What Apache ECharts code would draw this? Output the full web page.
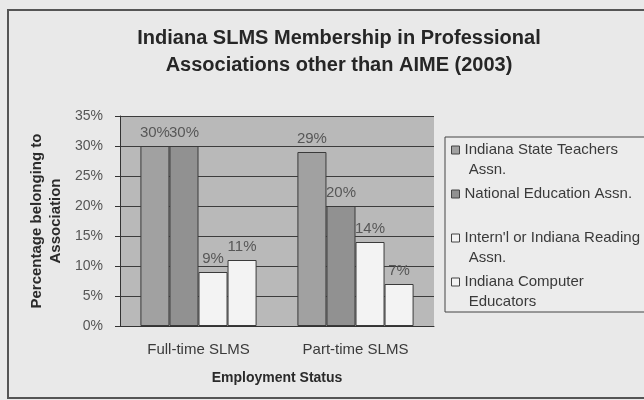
<!DOCTYPE html>
<html>
<head>
    <meta charset="utf-8" />
    <title>ECharts</title>
    <script src="https://cdn.jsdelivr.net/npm/echarts@6/dist/echarts.min.js"></script>
    <style>
        html, body { margin: 0; padding: 0; background: #e9e9e9; }
    </style>
</head>
<body>
    <div id="main" style="width: 644px;height:400px;"></div>

    <script type="text/javascript">
        // data
        var categories = ['Full-time SLMS', 'Part-time SLMS'];
        var seriesNames = ['Indiana State Teachers Assn.', 'National Education Assn.', "Intern'l or Indiana Reading Assn.", 'Indiana Computer Educators'];
        var stateTeachers = [30, 29];
        var nationalEdu = [30, 20];
        var reading = [9, 14];
        var computerEdu = [11, 7];
        var yTicks = [0, 5, 10, 15, 20, 25, 30, 35];

        // wrapped legend text, as in the original
        // (a blank first line keeps the marker level with the first text line)
        var legendText = {
            'Indiana State Teachers Assn.': ' \nIndiana State Teachers\n Assn.',
            'National Education Assn.': ' \nNational Education Assn.\n ',
            "Intern'l or Indiana Reading Assn.": " \nIntern'l or Indiana Reading\n Assn.",
            'Indiana Computer Educators': ' \nIndiana Computer\n Educators'
        };

        var barColors = ['#a1a1a1', '#919191', '#f3f3f3', '#f3f3f3'];
        var values = [stateTeachers, nationalEdu, reading, computerEdu];

        var myChart = echarts.init(document.getElementById('main'));

        var series = seriesNames.map(function (name, i) {
            return {
                name: name,
                type: 'bar',
                data: values[i],
                barGap: '0%',
                barCategoryGap: '26%',
                itemStyle: { color: barColors[i], borderColor: '#3a3a3a', borderWidth: 1 },
                label: {
                    show: true,
                    position: 'top',
                    distance: 6,
                    formatter: '{c}%',
                    color: '#575757',
                    fontSize: 15
                }
            };
        });

        var option = {
            backgroundColor: '#e9e9e9',
            textStyle: { fontFamily: 'Liberation Sans' },
            title: {
                text: 'Indiana SLMS Membership in Professional\nAssociations other than AIME (2003)',
                left: 334,
                textAlign: 'center',
                top: 20,
                textStyle: { fontSize: 20, fontWeight: 'bold', color: '#262626', lineHeight: 27 }
            },
            legend: {
                orient: 'vertical',
                left: 451,
                top: 120,
                padding: 0,
                itemGap: -16,
                itemWidth: 8,
                itemHeight: 8,
                icon: 'rect',
                data: seriesNames.map(function (n) {
                    return { name: n, itemStyle: { borderColor: '#444', borderWidth: 1 } };
                }),
                formatter: function (name) { return legendText[name]; },
                textStyle: { fontSize: 15, color: '#3a3a3a', lineHeight: 20 }
            },
            grid: { left: 120, right: 210, top: 116, bottom: 74, show: true, backgroundColor: '#b9b9b9', borderWidth: 0 },
            xAxis: {
                type: 'category',
                data: categories,
                name: 'Employment Status',
                nameLocation: 'middle',
                nameGap: 45,
                nameTextStyle: { fontSize: 14, fontWeight: 'bold', color: '#2a2a2a' },
                axisLine: { lineStyle: { color: '#333' } },
                axisTick: { length: 4, lineStyle: { color: '#333' } },
                axisLabel: { fontSize: 15, color: '#3a3a3a', margin: 16 }
            },
            yAxis: {
                type: 'value',
                min: yTicks[0],
                max: yTicks[yTicks.length - 1],
                interval: 5,
                name: 'Percentage belonging to\nAssociation',
                nameLocation: 'middle',
                nameGap: 55,
                nameTextStyle: { fontSize: 15, fontWeight: 'bold', color: '#2a2a2a', lineHeight: 19 },
                axisLine: { show: true, lineStyle: { color: '#333' } },
                axisTick: { show: true, length: 5, lineStyle: { color: '#333' } },
                axisLabel: { formatter: '{value}%', fontSize: 14, color: '#555', margin: 17 },
                splitLine: { lineStyle: { color: '#3c3c3c', width: 1 } }
            },
            graphic: [{
                // legend frame
                type: 'rect',
                shape: { x: 445, y: 137, width: 240, height: 175 },
                style: { fill: '#ececec', stroke: '#444', lineWidth: 1 },
                silent: true,
                z: -1
            }, {
                // outer chart frame
                type: 'rect',
                shape: { x: 8, y: 10, width: 700, height: 388 },
                style: { fill: 'none', stroke: '#555', lineWidth: 2 },
                silent: true,
                z: 100
            }],
            series: series
        };

        myChart.setOption(option);
    </script>
</body>
</html>
